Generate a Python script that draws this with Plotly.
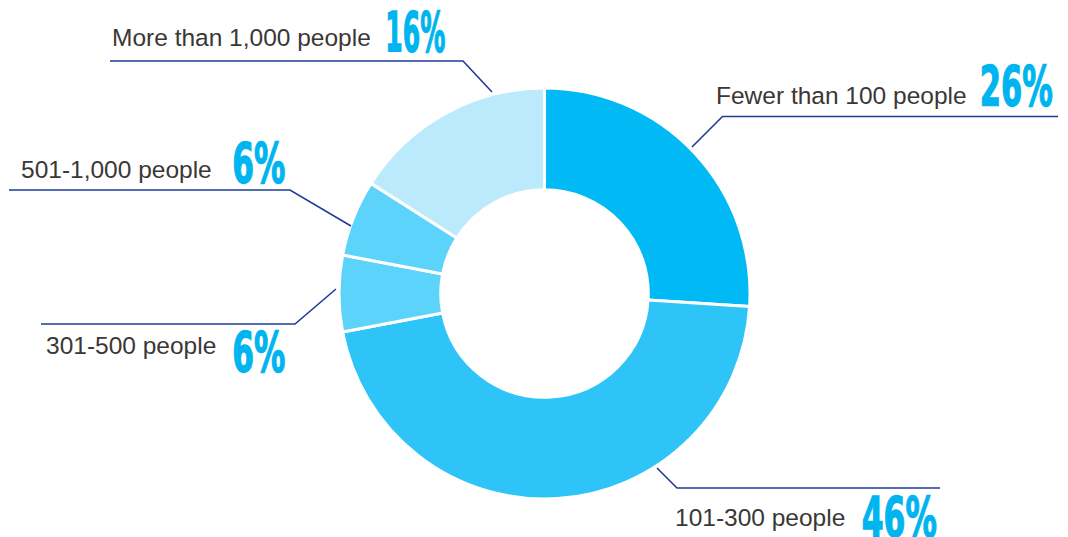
import plotly.graph_objects as go

categories = ["Fewer than 100 people", "101-300 people", "301-500 people",
              "501-1,000 people", "More than 1,000 people"]
values = [26, 46, 6, 6, 16]
pct_labels = ["26%", "46%", "6%", "6%", "16%"]

slice_colors = ["#00B9F5", "#2EC4F7", "#5CD3FA", "#5CD3FA", "#BAEAFB"]

W, H = 1068, 537
cx, cy, R = 544.5, 293.5, 205.5

# label layout (pixel coords): label right edge, label y-center, pct center x, pct y-center, pct width
label_layout = {
    "Fewer than 100 people": (969, 95, 1016, 85, 73),
    "101-300 people": (847, 517, 899.5, 516, 75),
    "301-500 people": (218, 345.5, 258.5, 351, 53),
    "501-1,000 people": (214, 169, 258.5, 162, 53),
    "More than 1,000 people": (373, 37.5, 415, 31, 60),
}
# leader line polylines (pixel coords)
leader_paths = {
    "Fewer than 100 people": [(1058, 116.5), (722.5, 116.5), (692, 147)],
    "101-300 people": [(940, 488), (677, 488), (657, 468)],
    "301-500 people": [(41, 324), (295, 324), (336, 289)],
    "501-1,000 people": [(9, 190), (290, 190), (351, 226)],
    "More than 1,000 people": [(110, 61), (463, 61), (492, 92)],
}

fig = go.Figure()
fig.add_trace(go.Pie(
    labels=categories, values=values, sort=False, direction="clockwise",
    rotation=0, hole=0.505, textinfo="none",
    marker=dict(colors=slice_colors, line=dict(color="white", width=3)),
    domain=dict(x=[(cx - R) / W, (cx + R) / W],
                y=[(H - cy - R) / H, (H - cy + R) / H]),
    showlegend=False,
))

shapes = []
for cat in categories:
    pts = leader_paths[cat]
    path = "M " + " L ".join(f"{x},{y}" for x, y in pts)
    shapes.append(dict(type="path", path=path, xref="x", yref="y",
                       line=dict(color="#1F3C96", width=1.6)))

annotations = []
widths = []
for i, (cat, pct) in enumerate(zip(categories, pct_labels)):
    lx, ly, px, py, pw = label_layout[cat]
    annotations.append(dict(
        x=lx, y=ly, xref="x", yref="y", text=cat, showarrow=False,
        xanchor="right", yanchor="middle",
        font=dict(family="Liberation Sans, Arial, sans-serif", size=24.5, color="#3B3734")))
    annotations.append(dict(
        x=px, y=py, xref="x", yref="y", text=pct, showarrow=False,
        xanchor="center", yanchor="middle",
        font=dict(family="DejaVu Sans Condensed, Liberation Sans, sans-serif",
                  size=56, weight="bold", color="#00B5EF")))
    widths.append(pw)

# compress the condensed percentage figures horizontally (text stays real SVG text)
post = """
var gd = document.getElementById('{plot_id}');
var w = %s;
var texts = gd.querySelectorAll('.annotation-text');
var k = 0;
texts.forEach(function(t, idx){
  if (idx %% 2 === 1) {
    t.setAttribute('textLength', w[k]);
    t.setAttribute('lengthAdjust', 'spacingAndGlyphs');
    t.style.stroke = '#00B5EF';
    t.style.strokeWidth = '1.4px';
    k += 1;
  }
});
""" % ("[" + ",".join(str(v) for v in widths) + "]")

fig.update_layout(
    width=W, height=H, margin=dict(l=0, r=0, t=0, b=0),
    paper_bgcolor="white", plot_bgcolor="rgba(0,0,0,0)",
    xaxis=dict(range=[0, W], visible=False, fixedrange=True),
    yaxis=dict(range=[H, 0], visible=False, fixedrange=True),
    shapes=shapes, annotations=annotations,
)

fig.write_html("out.html", post_script=post)
